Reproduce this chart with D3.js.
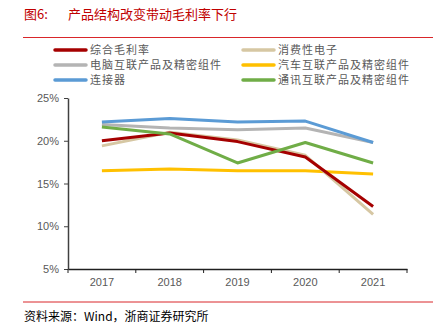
<!DOCTYPE html>
<html>
<meta charset="utf-8">
<script src="https://d3js.org/d3.v7.js"></script>
<style>
  body { margin: 0; background: #fff; }
  text { font-family: "Noto Sans CJK SC", "Liberation Sans", sans-serif; }
</style>
<body>
<div id="my_dataviz"></div>
<script type="text/javascript">
  // years on the x axis
  var years = ["2017", "2018", "2019", "2020", "2021"];
  // gross margin, %
  var zonghe   = [20.0, 20.9, 19.9, 18.1, 12.3];
  var xiaofei  = [19.4, 21.0, 20.1, 18.3, 11.4];
  var diannao  = [21.9, 21.5, 21.3, 21.5, 19.8];
  var qiche    = [16.5, 16.7, 16.5, 16.5, 16.1];
  var lianjie  = [22.2, 22.6, 22.2, 22.3, 19.8];
  var tongxun  = [21.6, 20.8, 17.4, 19.8, 17.4];
  var seriesNames = ["综合毛利率", "消费性电子", "电脑互联产品及精密组件", "汽车互联产品及精密组件", "连接器", "通讯互联产品及精密组件"];
  var yTicks = [5, 10, 15, 20, 25];

  var series = [
    {name: seriesNames[0], values: zonghe,  color: "#a50000"},
    {name: seriesNames[1], values: xiaofei, color: "#d6c7a3"},
    {name: seriesNames[2], values: diannao, color: "#b4b4b4"},
    {name: seriesNames[3], values: qiche,   color: "#ffc000"},
    {name: seriesNames[4], values: lianjie, color: "#5b9bd5"},
    {name: seriesNames[5], values: tongxun, color: "#70ad47"}
  ];
  // draw order: yellow, beige, red, gray, green, blue on top
  var drawOrder = [3, 1, 0, 2, 5, 4];

  var svg = d3.select("#my_dataviz")
    .append("svg")
      .attr("width", 443)
      .attr("height", 335);

  // title
  svg.append("text")
    .attr("x", 24).attr("y", 19)
    .style("font-size", "13px").style("fill", "#c00000")
    .text("图6:");
  svg.append("text")
    .attr("x", 68).attr("y", 19)
    .style("font-size", "13px").style("fill", "#c00000")
    .text("产品结构改变带动毛利率下行");
  svg.append("line")
    .attr("x1", 23).attr("x2", 433).attr("y1", 37.5).attr("y2", 37.5)
    .style("stroke", "#d9262a").style("stroke-width", 1);

  // legend
  series.forEach(function(s, i) {
    var col = i % 2, row = Math.floor(i / 2);
    var lx = col === 0 ? 55 : 243;
    var ly = 50 + row * 15;
    svg.append("line")
      .attr("x1", lx).attr("x2", lx + 31).attr("y1", ly).attr("y2", ly)
      .style("stroke", s.color).style("stroke-width", 3.5)
      .style("stroke-linecap", "round");
    svg.append("text")
      .attr("x", lx + 35).attr("y", ly + 4)
      .style("font-size", "11px").style("fill", "#595959")
      .style("letter-spacing", "1px")
      .text(s.name);
  });

  // plot area
  var plotLeft = 68, plotRight = 407, plotTop = 98, plotBottom = 269;

  var x = d3.scaleBand()
    .range([plotLeft, plotRight])
    .domain(years)
    .padding(0);

  var y = d3.scaleLinear()
    .range([plotBottom, plotTop])
    .domain([5, 25]);

  var gy = svg.append("g")
    .attr("transform", "translate(" + plotLeft + ",0)")
    .call(d3.axisLeft(y).tickValues(yTicks).tickSize(4).tickSizeOuter(0)
      .tickFormat(function(d) { return d + "%"; }));
  gy.select(".domain").style("stroke", "#404040").style("stroke-width", 1.5);
  gy.selectAll(".tick line").style("stroke", "#404040");
  gy.selectAll(".tick text").attr("x", -9)
    .style("font-size", "11px").style("fill", "#595959")
    .style("font-family", "'Liberation Sans', Arial, sans-serif");

  var gx = svg.append("g")
    .attr("transform", "translate(0," + plotBottom + ")")
    .call(d3.axisBottom(x).tickSize(0).tickSizeOuter(0));
  gx.select(".domain").style("stroke", "#202020").style("stroke-width", 1.5);
  gx.selectAll(".tick text").attr("y", 9)
    .style("font-size", "11px").style("fill", "#595959")
    .style("font-family", "'Liberation Sans', Arial, sans-serif");
  // tick marks at band boundaries
  var bounds = years.map(function(d) { return x(d); }).concat([x(years[years.length - 1]) + x.bandwidth()]);
  gx.selectAll(".bound")
    .data(bounds)
    .enter()
    .append("line")
      .attr("x1", function(d) { return d; })
      .attr("x2", function(d) { return d; })
      .attr("y1", 0).attr("y2", 4)
      .style("stroke", "#202020");

  // lines
  var line = d3.line()
    .x(function(d, i) { return x(years[i]) + x.bandwidth() / 2; })
    .y(function(d) { return y(d); });

  drawOrder.forEach(function(k) {
    var s = series[k];
    svg.append("path")
      .datum(s.values)
      .attr("d", line)
      .style("fill", "none")
      .style("stroke", s.color)
      .style("stroke-width", 3)
      .style("stroke-linejoin", "round");
  });

  // footer
  svg.append("line")
    .attr("x1", 23).attr("x2", 433).attr("y1", 302).attr("y2", 302)
    .style("stroke", "#d9262a").style("stroke-width", 1);
  svg.append("text")
    .attr("x", 24).attr("y", 321)
    .style("font-size", "12px").style("fill", "#000")
    .text("资料来源：Wind，浙商证券研究所");
</script>
</body>
</html>
